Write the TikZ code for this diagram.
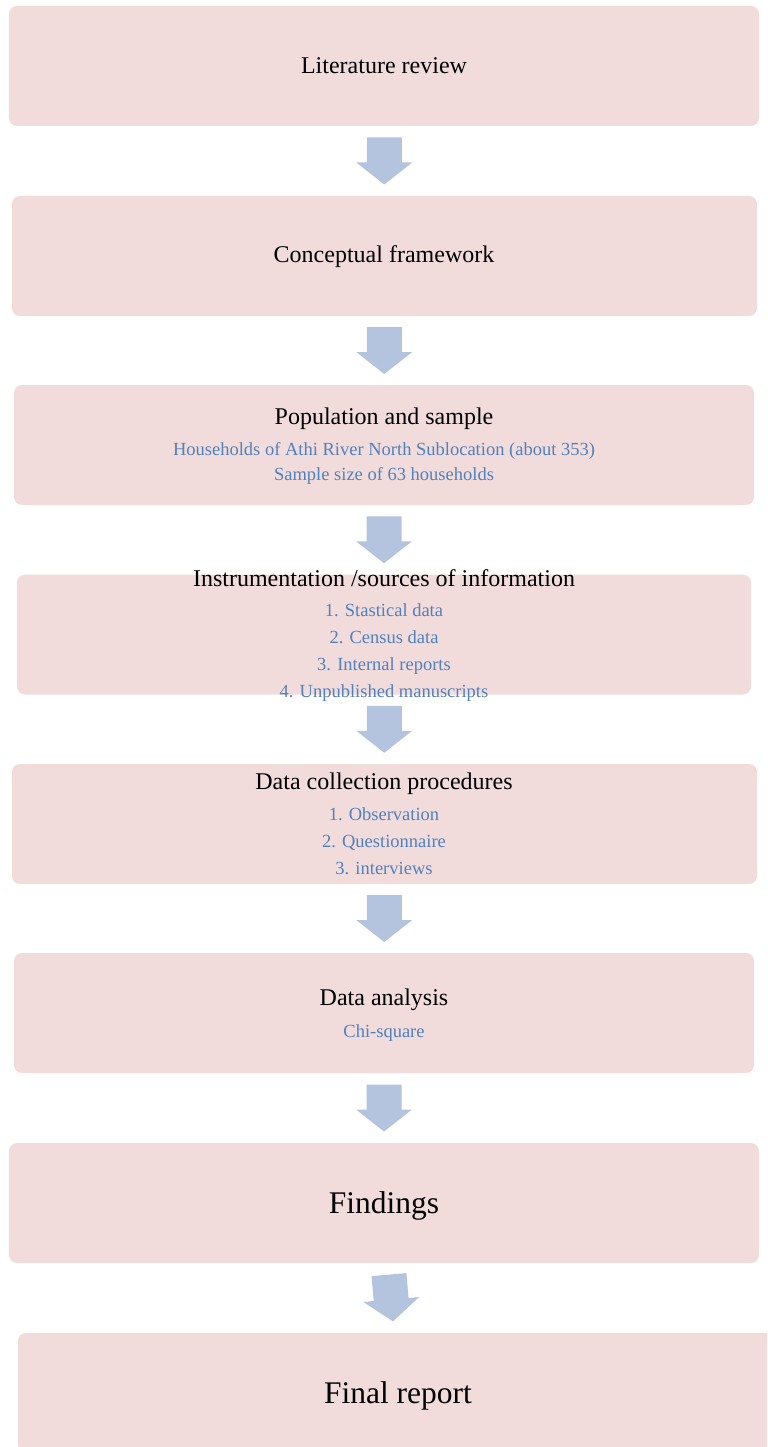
\documentclass[tikz,border=0pt]{standalone}
\usepackage{fontspec}
\setmainfont{Liberation Serif}
\usetikzlibrary{calc}

\definecolor{boxpink}{HTML}{F2DCDB}
\definecolor{arrowblue}{HTML}{B4C3DE}
\definecolor{textblue}{HTML}{4F81BD}

\tikzset{
	stage/.style={fill=boxpink, rounded corners=8bp, minimum height=120bp, inner sep=0pt},
	heading/.style={anchor=base, inner sep=0pt, font=\fontsize{24bp}{28bp}\selectfont},
	bigheading/.style={anchor=base, inner sep=0pt, font=\fontsize{31.5bp}{36bp}\selectfont},
	detail/.style={anchor=base, inner sep=0pt, text=textblue, font=\fontsize{18.5bp}{22bp}\selectfont}
}

% block arrow half way between two stages, turned by #3 degrees
\newcommand{\stagearrow}[3]{%
	\coordinate (mid) at ($(#1.south)!0.5!(#2.north)$);
	\begin{scope}[shift={(mid)}, rotate=#3]
		\fill[arrowblue] (-17.5,-23.5) -- (17.5,-23.5) -- (17.5,1.5) -- (28,1.5) -- (0,23.5) -- (-28,1.5) -- (-17.5,1.5) -- cycle;
	\end{scope}
}

\begin{document}
\begin{tikzpicture}[x=1bp, y=-1bp]
			\useasboundingbox (0,0) rectangle (767,1447);
			\clip (0,0) rectangle (767,1447);
			
			\node[stage, minimum width=750bp] (lit) at (384,66) {};
			\node[stage, minimum width=745bp] (concept) at (384.5,256) {};
			\node[stage, minimum width=740bp] (popsample) at (384,445) {};
			\node[stage, minimum width=734bp] (instr) at (384,634.5) {};
			\node[stage, minimum width=745bp] (collect) at (384.5,824) {};
			\node[stage, minimum width=740bp] (analysis) at (384,1013) {};
			\node[stage, minimum width=750bp] (findings) at (384,1203) {};
			\node[stage, minimum width=760bp] (report) at (398,1393) {};
			
			\stagearrow{lit}{concept}{0}
			\stagearrow{concept}{popsample}{0}
			\stagearrow{popsample}{instr}{0}
			\stagearrow{instr}{collect}{0}
			\stagearrow{collect}{analysis}{0}
			\stagearrow{analysis}{findings}{0}
			\stagearrow{findings}{report}{5}
			
			\node[heading] (lit-t) at (384,73.3) {Literature review};
			\node[heading] (concept-t) at (384,262) {Conceptual framework};
			
			\node[heading] (popsample-t) at (384,424) {Population and sample};
			\node[detail] (popsample-1) at (384,455) {Households of Athi River North Sublocation (about 353)};
			\node[detail] (popsample-2) at (384,480.7) {Sample size of 63 households};
			
			\node[heading] (instr-t) at (384,586.7) {Instrumentation /sources of information};
			\node[detail] (instr-1) at (384,616.7) {1. Stastical data};
			\node[detail] (instr-2) at (384,643.3) {2. Census data};
			\node[detail] (instr-3) at (384,670.7) {3. Internal reports};
			\node[detail] (instr-4) at (384,697.7) {4. Unpublished manuscripts};
			
			\node[heading] (collect-t) at (384,789) {Data collection procedures};
			\node[detail] (collect-1) at (384,820) {1. Observation};
			\node[detail] (collect-2) at (384,847) {2. Questionnaire};
			\node[detail] (collect-3) at (384,874) {3. interviews};
			
			\node[heading] (analysis-t) at (384,1005) {Data analysis};
			\node[detail] (analysis-1) at (384,1037) {Chi-square};
			
			\node[bigheading] (findings-t) at (384,1213) {Findings};
			\node[bigheading] (report-t) at (398,1403) {Final report};
		\end{tikzpicture}
\end{document}
